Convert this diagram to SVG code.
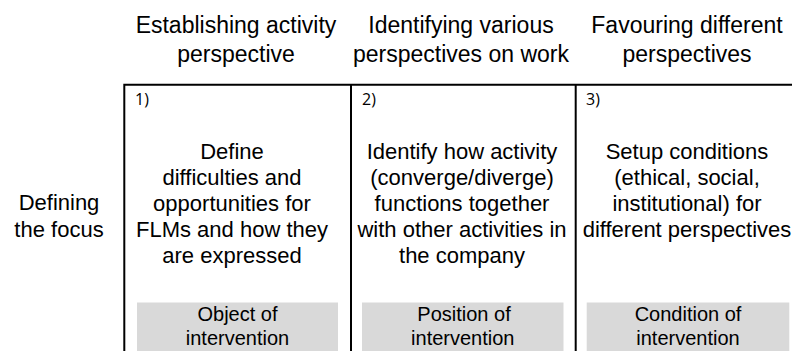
<svg xmlns="http://www.w3.org/2000/svg" width="792" height="351" viewBox="0 0 792 351">
<style>
text{font-family:"Liberation Sans",Arial,sans-serif;fill:#000;text-anchor:middle}
.hd{font-size:23px}
.bd{font-size:22px}
.lb{font-size:20px}
.num{font-size:16px;text-anchor:start;font-family:"Open Sans","Liberation Sans",sans-serif}
.ln{stroke:#000;stroke-width:2;fill:none}
.gb{fill:#d9d9d9}
</style>
<rect width="792" height="351" fill="#fff"/>
<g id="headers">
<text class="hd" x="236" y="33">Establishing activity</text>
<text class="hd" x="236" y="62">perspective</text>
<text class="hd" x="461" y="33">Identifying various</text>
<text class="hd" x="461" y="62">perspectives on work</text>
<text class="hd" x="687" y="33">Favouring different</text>
<text class="hd" x="687" y="62">perspectives</text>
</g>
<g id="row-label">
<text class="bd" x="59" y="210">Defining</text>
<text class="bd" x="59" y="236.5">the focus</text>
</g>
<g id="connectors">
<path class="ln" d="M124.3 351V84.7H800"/>
<path class="ln" d="M351 84.7V351"/>
<path class="ln" d="M575.7 84.7V351"/>
</g>
<g id="cell1">
<text class="num" x="135" y="105">1)</text>
<text class="bd" x="232" y="159">Define</text>
<text class="bd" x="232" y="185">difficulties and</text>
<text class="bd" x="232" y="211">opportunities for</text>
<text class="bd" x="232" y="236.5">FLMs and how they</text>
<text class="bd" x="232" y="262.5">are expressed</text>
<rect class="gb" x="137" y="302.5" width="201" height="50"/>
<text class="lb" x="237.5" y="321">Object of</text>
<text class="lb" x="237.5" y="345">intervention</text>
</g>
<g id="cell2">
<text class="num" x="362" y="105">2)</text>
<text class="bd" x="462" y="159">Identify how activity</text>
<text class="bd" x="462" y="185">(converge/diverge)</text>
<text class="bd" x="462" y="211">functions together</text>
<text class="bd" x="462" y="236.5">with other activities in</text>
<text class="bd" x="462" y="262.5">the company</text>
<rect class="gb" x="362" y="302.5" width="201.5" height="50"/>
<text class="lb" x="464" y="321">Position of</text>
<text class="lb" x="462.8" y="345">intervention</text>
</g>
<g id="cell3">
<text class="num" x="586" y="105">3)</text>
<text class="bd" x="687" y="159">Setup conditions</text>
<text class="bd" x="687" y="185">(ethical, social,</text>
<text class="bd" x="687" y="211">institutional) for</text>
<text class="bd" x="687" y="236.5">different perspectives</text>
<rect class="gb" x="586.7" y="302.5" width="202.6" height="50"/>
<text class="lb" x="688" y="321">Condition of</text>
<text class="lb" x="688" y="345">intervention</text>
</g>
</svg>
